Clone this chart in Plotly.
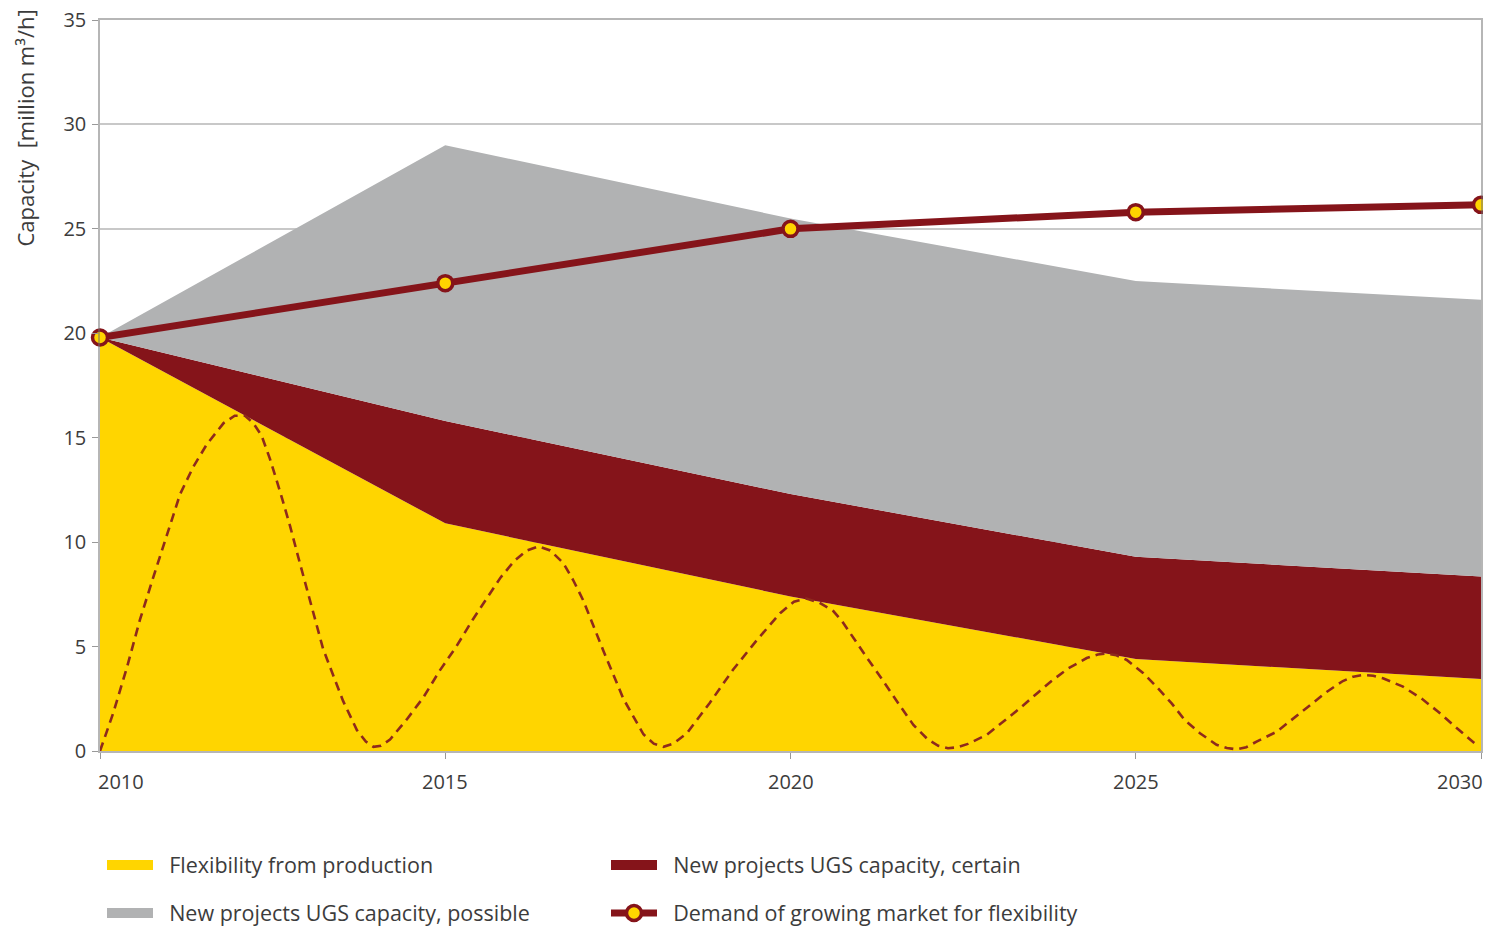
import plotly.graph_objects as go

# ---------------- data ----------------
years = [2010, 2015, 2020, 2025, 2030]
production = [19.8, 10.9, 7.4, 4.4, 3.45]          # Flexibility from production (top of yellow)
certain_top = [19.8, 15.8, 12.3, 9.3, 8.35]        # top of "certain" UGS band
possible_top = [19.8, 29.0, 25.5, 22.5, 21.6]      # top of "possible" UGS band
demand = [19.8, 22.4, 25.0, 25.8, 26.15]           # Demand of growing market

# dashed seasonal curve
season_x = [2010.00, 2010.19, 2010.39, 2010.58, 2010.77, 2010.97, 2011.16, 2011.35, 2011.55, 2011.79,
            2011.95, 2012.10, 2012.22, 2012.34, 2012.46, 2012.61, 2012.75, 2012.87, 2012.99, 2013.11,
            2013.23, 2013.38, 2013.52, 2013.72, 2013.85, 2013.96, 2014.07, 2014.20, 2014.44, 2014.68,
            2014.92, 2015.16, 2015.40, 2015.60, 2015.80, 2016.00, 2016.18, 2016.35, 2016.52, 2016.71,
            2016.85, 2017.00, 2017.29, 2017.58, 2017.87, 2018.02, 2018.16, 2018.30, 2018.50, 2018.83,
            2019.17, 2019.51, 2019.85, 2020.05, 2020.23, 2020.42, 2020.62, 2020.75, 2020.91, 2021.10,
            2021.27, 2021.44, 2021.61, 2021.78, 2021.99, 2022.14, 2022.28, 2022.42, 2022.57, 2022.84,
            2023.08, 2023.32, 2023.56, 2023.78, 2024.02, 2024.29, 2024.45, 2024.58, 2024.72, 2024.87,
            2025.11, 2025.30, 2025.52, 2025.71, 2025.93, 2026.17, 2026.32, 2026.46, 2026.60, 2026.75,
            2027.04, 2027.28, 2027.52, 2027.77, 2028.00, 2028.15, 2028.29, 2028.44, 2028.58, 2028.87,
            2029.14, 2029.38, 2029.60, 2029.86, 2029.95]
season_y = [0.0, 1.8, 4.0, 6.3, 8.3, 10.4, 12.3, 13.6, 14.7, 15.7,
            16.05, 16.05, 15.7, 15.1, 14.0, 12.4, 10.8, 9.3, 7.8, 6.3,
            4.9, 3.6, 2.4, 1.0, 0.45, 0.2, 0.25, 0.55, 1.5, 2.55,
            3.85, 5.0, 6.3, 7.3, 8.3, 9.1, 9.6, 9.8, 9.6, 9.0,
            8.2, 7.2, 4.8, 2.5, 0.8, 0.35, 0.2, 0.35, 0.85, 2.3,
            3.9, 5.3, 6.6, 7.15, 7.3, 7.1, 6.7, 6.2, 5.45, 4.5,
            3.7, 2.85, 2.05, 1.25, 0.55, 0.25, 0.13, 0.18, 0.34, 0.77,
            1.4, 2.04, 2.73, 3.35, 3.95, 4.45, 4.62, 4.67, 4.58, 4.36,
            3.72, 3.08, 2.28, 1.48, 0.85, 0.3, 0.14, 0.08, 0.18, 0.45,
            0.92, 1.56, 2.2, 2.84, 3.35, 3.56, 3.64, 3.6, 3.48, 3.08,
            2.51, 1.88, 1.24, 0.53, 0.25]

y_ticks = [0, 5, 10, 15, 20, 25, 30, 35]
x_ticks = [2010, 2015, 2020, 2025, 2030]
x_tick_labels = ["2010", "2015", "2020", "2025", "2030"]

names = ["Flexibility from production", "New projects UGS capacity, certain",
         "New projects UGS capacity, possible", "Demand of growing market for flexibility"]
y_title = "Capacity  [million m³/h]"

YELLOW = "#FFD500"
RED = "#85141A"
GREY = "#B1B2B3"
DASH = "#8E2A1C"
TEXT = "#3c3c3c"
AXIS = "rgba(110,110,110,0.5)"
FONT = "Open Sans"
PAD = "\u00a0\u00a0"

# the page body has an 8px margin; size the figure so the plot lands where the reference has it
W, H = 1483, 922
OFF = 8
ML, MR, MT, MB = 100 - OFF, 10, 20 - OFF, 179
PW, PH = W - ML - MR, H - MT - MB

fig = go.Figure()

# areas
fig.add_trace(go.Scatter(x=years, y=production, mode="lines", line=dict(width=0, color=YELLOW),
                         fill="tozeroy", fillcolor=YELLOW, showlegend=False, hoverinfo="skip"))
fig.add_trace(go.Scatter(x=years, y=certain_top, mode="lines", line=dict(width=0, color=RED),
                         fill="tonexty", fillcolor=RED, showlegend=False, hoverinfo="skip"))
fig.add_trace(go.Scatter(x=years, y=possible_top, mode="lines", line=dict(width=0, color=GREY),
                         fill="tonexty", fillcolor=GREY, showlegend=False, hoverinfo="skip"))

# dashed curve
fig.add_trace(go.Scatter(x=season_x, y=season_y, mode="lines",
                         line=dict(color=DASH, width=2.6, dash="9px,6px"),
                         showlegend=False, hoverinfo="skip"))

# legend entries for areas
fig.add_trace(go.Scatter(x=[None], y=[None], mode="lines", name=PAD + names[0],
                         line=dict(color=YELLOW, width=14), legend="legend", legendrank=1))
fig.add_trace(go.Scatter(x=[None], y=[None], mode="lines", name=PAD + names[1],
                         line=dict(color=RED, width=14), legend="legend", legendrank=2))
fig.add_trace(go.Scatter(x=[None], y=[None], mode="lines", name=PAD + names[2],
                         line=dict(color=GREY, width=14), legend="legend2", legendrank=3))

# demand line
fig.add_trace(go.Scatter(x=years, y=demand, mode="lines+markers", name=PAD + names[3],
                         line=dict(color=RED, width=7),
                         marker=dict(size=15, color=YELLOW, line=dict(color=RED, width=3.5)),
                         cliponaxis=False, legend="legend2", legendrank=4))

# x tick labels as annotations (first left aligned, last right aligned)
for i, (xv, lab) in enumerate(zip(x_ticks, x_tick_labels)):
    anchor = "left" if i == 0 else ("right" if i == len(x_ticks) - 1 else "center")
    fig.add_annotation(x=xv, y=0, xref="x", yref="paper", text=lab, showarrow=False,
                       xanchor=anchor, yanchor="middle", yshift=-30,
                       xshift=(-4 if i == 0 else (4 if i == len(x_ticks) - 1 else 0)),
                       font=dict(family=FONT, size=20, color=TEXT))

# y axis title, anchored at the top
fig.add_annotation(text=y_title, xref="paper", yref="paper",
                   x=((25 - OFF) - ML) / PW, y=1 + MT / PH,
                   textangle=-90, showarrow=False, xanchor="center", yanchor="top",
                   font=dict(family=FONT, size=22, color=TEXT))

legend_common = dict(orientation="h", xanchor="left", yanchor="middle", xref="container", yref="container",
                     font=dict(family=FONT, size=21.5, color=TEXT),
                     bgcolor="rgba(0,0,0,0)", itemwidth=46, entrywidth=443, traceorder="normal")

fig.update_layout(
    width=W, height=H,
    margin=dict(l=ML, r=MR, t=MT, b=MB, autoexpand=False),
    paper_bgcolor="white", plot_bgcolor="white",
    font=dict(family=FONT, size=20, color=TEXT),
    showlegend=True,
    legend=dict(x=(107 - 5 - OFF) / W, y=1 - (865 - OFF) / H, **legend_common),
    legend2=dict(x=(107 - 5 - OFF) / W, y=1 - (913 - OFF) / H, **legend_common),
    xaxis=dict(range=[2010, 2030], tickvals=x_ticks, showticklabels=False, automargin=False,
               ticks="outside", ticklen=6, tickcolor="#999999", showgrid=False,
               showline=True, linecolor=AXIS, linewidth=1.5, mirror=True, zeroline=False),
    yaxis=dict(range=[0, 35], tickvals=y_ticks, ticks="outside", ticklen=6, tickcolor="#999999",
               automargin=False, ticklabelstandoff=2, ticklabeloverflow="allow",
               showgrid=True, gridcolor="#c8c8c8", gridwidth=1.5,
               showline=True, linecolor=AXIS, linewidth=1.5, mirror=True, zeroline=False,
               tickfont=dict(family=FONT, size=20, color=TEXT)),
)

fig.write_html("out.html")
